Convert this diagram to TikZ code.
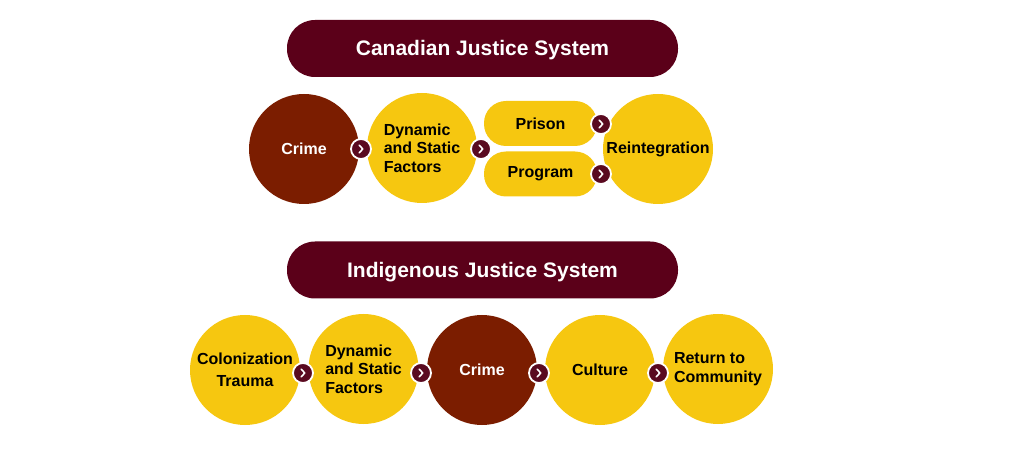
\documentclass[tikz,border=0pt]{standalone}
\usepackage{fontspec}
\setmainfont{Liberation Sans}
\usetikzlibrary{calc}
\definecolor{gold}{HTML}{F6C710}
\definecolor{rust}{HTML}{7B1D00}
\definecolor{wine}{HTML}{5B0019}
\definecolor{mark}{HTML}{5A0A20}
\tikzset{
  banner/.style={fill=wine, rounded corners=28pt, minimum width=391pt, minimum height=57pt, inner sep=0pt, text=white, text height=19pt, text depth=4pt, font=\bfseries\fontsize{21}{24}\selectfont},
  ball/.style={circle, fill=gold, minimum size=110pt, inner sep=0pt, font=\bfseries\fontsize{16}{18.5}\selectfont},
  rustball/.style={ball, fill=rust, text=white},
  pill/.style={fill=gold, rounded corners=22pt, minimum width=113pt, minimum height=45pt, inner sep=0pt, font=\bfseries\fontsize{16}{18.5}\selectfont},
  marker/.style={circle, fill=mark, draw=white, line width=1.8pt, minimum size=20pt, inner sep=0pt},
  chev/.style={white, line width=1.6pt, line cap=round, line join=round}
}
\newcommand{\chevron}[1]{\draw[chev] ($(#1)+(-1.8,-3.8)$) -- ($(#1)+(1.8,0)$) -- ($(#1)+(-1.8,3.8)$);}
\begin{document}
\begin{tikzpicture}[x=1pt,y=-1pt]
\useasboundingbox (0,0) rectangle (1023,470);
% top
\node[banner] (b1) at (482.5,48.5) {Canadian Justice System};
\node[rustball] (c1) at (304,149) {Crime};
\node[ball, align=left] (c2) at (422,148) {Dynamic\\and Static\\Factors};
\node[pill] (p1) at (540.5,123.5) {Prison};
\node[pill] (p2) at (540.5,174) {Program};
\node[ball] (c3) at (658,149) {Reintegration};
\node[marker] (m1) at (361,149) {}; \chevron{m1}
\node[marker] (m2) at (481,149) {}; \chevron{m2}
\node[marker] (m3) at (601,124) {}; \chevron{m3}
\node[marker] (m4) at (601,174) {}; \chevron{m4}
% bottom
\node[banner] (b2) at (482.5,270) {Indigenous Justice System};
\node[ball, align=center] (d1) at (245,370) {Colonization\\[3.5pt]Trauma};
\node[ball, align=left] (d2) at (363.5,369) {Dynamic\\and Static\\Factors};
\node[rustball] (d3) at (482,370) {Crime};
\node[ball] (d4) at (600,370) {Culture};
\node[ball, align=left] (d5) at (718,369) {Return to\\Community};
\node[marker] (n1) at (303,373) {}; \chevron{n1}
\node[marker] (n2) at (421,373) {}; \chevron{n2}
\node[marker] (n3) at (539,373) {}; \chevron{n3}
\node[marker] (n4) at (658,373) {}; \chevron{n4}
\end{tikzpicture}
\end{document}
